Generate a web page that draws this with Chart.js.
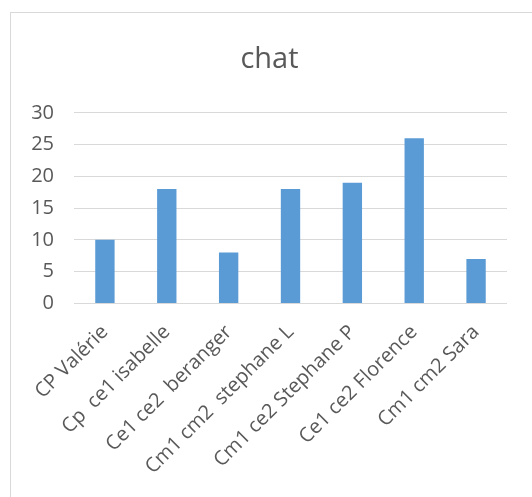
<!DOCTYPE html>
<html>
<head>
<meta charset="utf-8">
<script src="https://cdn.jsdelivr.net/npm/chart.js@4"></script>
<style>
    html, body { margin: 0; padding: 0; background: #fff; }
    #cadre { position: absolute; left: 10px; top: 12px; width: 600px; height: 600px;
             border-left: 1px solid #d9d9d9; border-top: 1px solid #d9d9d9; }
    #zone { position: absolute; left: 0; top: 0; width: 532px; height: 497px; }
</style>
</head>
<body>
<div id="cadre"></div>
<div id="zone"><canvas id="graficoChat"></canvas></div>
<script>
const classes = ['CP Valérie', 'Cp  ce1 isabelle', 'Ce1 ce2  beranger', 'Cm1 cm2  stephane L',
    'Cm1 ce2 Stephane P', 'Ce1 ce2 Florence', 'Cm1 cm2 Sara']
const valeurs = [10, 18, 8, 18, 19, 26, 7]
const graduations = [0, 5, 10, 15, 20, 25, 30]

const police = "'Open Sans', 'DejaVu Sans', sans-serif"
const gris = '#595959'

const grafico = document.getElementById('graficoChat')

new Chart(grafico, {
    type: 'bar',
    data: {
        labels: classes,
        datasets: [{
            label: 'chat',
            data: valeurs,
            backgroundColor: '#5b9bd5',
            barPercentage: 0.313,
            categoryPercentage: 1
        }]
    },
    options: {
        responsive: true,
        maintainAspectRatio: false,
        animation: false,
        layout: { padding: { left: 32, right: 25, top: 0, bottom: 9 } },
        plugins: {
            legend: { display: false },
            tooltip: { enabled: false },
            title: {
                display: true,
                text: 'chat',
                color: gris,
                font: { family: police, size: 29, weight: 'normal' },
                padding: { top: 42, bottom: 36 }
            }
        },
        scales: {
            x: {
                grid: { display: false },
                border: { display: false },
                ticks: {
                    color: gris,
                    font: { family: police, size: 20 },
                    minRotation: 45,
                    maxRotation: 45,
                    autoSkip: false,
                    padding: 9
                }
            },
            y: {
                min: 0,
                max: 30,
                afterBuildTicks: axe => { axe.ticks = graduations.map(v => ({ value: v })) },
                afterFit: axe => { axe.width = 42 },
                grid: { color: '#d9d9d9', lineWidth: 1, drawTicks: false },
                border: { display: false },
                ticks: {
                    color: gris,
                    font: { family: police, size: 20 },
                    padding: 20
                }
            }
        }
    }
})
</script>
</body>
</html>
